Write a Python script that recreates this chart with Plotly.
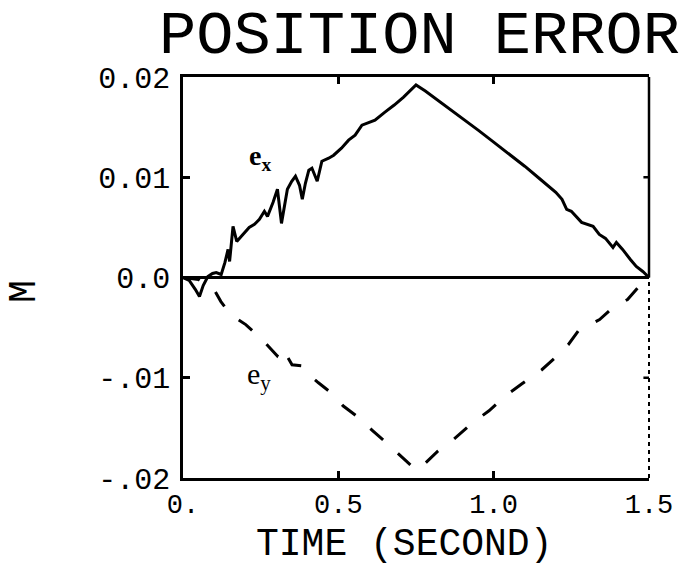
import plotly.graph_objects as go

# Time samples (s) and position error (m) for the x and y components
t_ex = [0.0, 0.02, 0.04, 0.053, 0.065, 0.08, 0.095, 0.107, 0.123, 0.135, 0.145,
        0.15, 0.161, 0.173, 0.19, 0.213, 0.23, 0.246, 0.262, 0.272, 0.29, 0.304,
        0.317, 0.336, 0.35, 0.362, 0.375, 0.384, 0.394, 0.405, 0.415, 0.432,
        0.447, 0.469, 0.485, 0.51, 0.533, 0.554, 0.576, 0.6, 0.618, 0.65, 0.68,
        0.71, 0.735, 0.75, 0.78, 0.82, 0.86, 0.9, 0.95, 1.0, 1.05, 1.1, 1.15,
        1.2, 1.22, 1.235, 1.25, 1.283, 1.32, 1.34, 1.36, 1.384, 1.395, 1.415,
        1.44, 1.459, 1.48, 1.5]
ex = [0.0, -0.0003, -0.0012, -0.0019, -0.0008, 0.0001, 0.0004, 0.0005, 0.0003,
      0.0015, 0.0028, 0.0016, 0.0051, 0.0036, 0.0042, 0.0050, 0.0053, 0.0058,
      0.0066, 0.0061, 0.0075, 0.0088, 0.0054, 0.0088, 0.0096, 0.0101, 0.0092,
      0.0078, 0.0094, 0.0107, 0.0109, 0.0096, 0.0116, 0.0119, 0.0122, 0.0129,
      0.0137, 0.0142, 0.0152, 0.0155, 0.0157, 0.0165, 0.0172, 0.0180, 0.0187,
      0.0192, 0.0186, 0.0177, 0.0168, 0.0159, 0.0147, 0.0135, 0.0123, 0.0111,
      0.0098, 0.0085, 0.0078, 0.0068, 0.0066, 0.0055, 0.0051, 0.0043, 0.0039,
      0.0030, 0.0035, 0.0028, 0.0018, 0.0011, 0.0006, 0.0]

t_ey = [0.0, 0.05, 0.1, 0.122, 0.153, 0.202, 0.255, 0.28, 0.303, 0.319, 0.351,
        0.383, 0.41, 0.436, 0.473, 0.515, 0.558, 0.611, 0.659, 0.718, 0.75,
        0.767, 0.821, 0.873, 0.932, 0.985, 1.038, 1.091, 1.155, 1.198, 1.24,
        1.273, 1.341, 1.384, 1.431, 1.479, 1.5]
ey = [0.0, -0.0002, -0.0012, -0.0024, -0.0037, -0.0047, -0.0062, -0.0070,
      -0.0078, -0.0070, -0.0087, -0.0088, -0.0098, -0.0105, -0.0114, -0.0128,
      -0.0138, -0.0153, -0.0166, -0.0183, -0.0192, -0.0189, -0.0173, -0.0161,
      -0.0145, -0.0133, -0.0118, -0.0106, -0.0092, -0.0080, -0.0067, -0.0053,
      -0.0042, -0.0030, -0.0022, -0.0005, 0.0]

x_tick_vals = [0.0, 0.5, 1.0, 1.5]
x_tick_text = ["0.", "0.5", "1.0", "1.5"]
y_tick_vals = [0.02, 0.01, 0.0, -0.01, -0.02]
y_tick_text = ["0.02", "0.01", "0.0", "-.01", "-.02"]

MONO = "Liberation Mono, DejaVu Sans Mono, monospace"
SERIF = "Liberation Serif, DejaVu Serif, serif"
INK = "black"

fig = go.Figure()
fig.add_trace(go.Scatter(x=t_ex, y=ex, mode="lines",
                         line=dict(color=INK, width=3), showlegend=False))
fig.add_trace(go.Scatter(x=t_ey, y=ey, mode="lines",
                         line=dict(color=INK, width=3, dash="17px,20px"),
                         showlegend=False))

# right-hand frame: solid above zero, broken below
fig.add_shape(type="line", xref="paper", yref="y", x0=1, x1=1, y0=0, y1=0.02,
              line=dict(color=INK, width=2.5))
fig.add_shape(type="line", xref="paper", yref="y", x0=1, x1=1, y0=-0.02, y1=0,
              line=dict(color=INK, width=2, dash="4px,4px"))
# mirrored y ticks on the right side
for v in y_tick_vals:
    if abs(v) == 0.01:
        fig.add_shape(type="line", xref="paper", yref="y", x0=0.988, x1=1,
                      y0=v, y1=v, line=dict(color=INK, width=2.5))

fig.update_layout(
    width=685, height=568,
    margin=dict(l=183, r=33, t=77, b=90),
    paper_bgcolor="white", plot_bgcolor="white",
    xaxis=dict(range=[0, 1.5], tickvals=x_tick_vals, ticktext=x_tick_text,
               ticks="inside", ticklen=7, tickwidth=2.5, tickcolor=INK,
               showline=True, linecolor=INK, linewidth=2.5, mirror="ticks",
               showgrid=False, zeroline=False, ticklabelstandoff=0,
               tickfont=dict(family=MONO, size=27, color=INK)),
    yaxis=dict(range=[-0.02, 0.02], tickvals=y_tick_vals, ticktext=y_tick_text,
               ticks="inside", ticklen=7, tickwidth=2.5, tickcolor=INK,
               showline=True, linecolor=INK, linewidth=2.5, mirror=False,
               showgrid=False, zeroline=True, zerolinecolor=INK,
               zerolinewidth=2.5, ticklabelstandoff=4,
               tickfont=dict(family=MONO, size=30, color=INK)),
    annotations=[
        dict(text="POSITION ERROR", xref="paper", yref="paper",
             x=0.507, y=1.102, xanchor="center", yanchor="middle",
             showarrow=False, font=dict(family=MONO, size=62, color=INK)),
        dict(text="TIME (SECOND)", xref="paper", yref="paper",
             x=0.475, y=-0.165, xanchor="center", yanchor="middle",
             showarrow=False, font=dict(family=MONO, size=38, color=INK)),
        dict(text="M", xref="paper", yref="paper", textangle=-90,
             x=-0.339, y=0.464, xanchor="center", yanchor="middle",
             showarrow=False, font=dict(family=MONO, size=38, color=INK)),
        dict(text="<b>e<sub>x</sub></b>", xref="paper", yref="paper",
             x=0.166, y=0.80, xanchor="center", yanchor="middle",
             showarrow=False, font=dict(family=SERIF, size=28, color=INK)),
        dict(text="e<sub>y</sub>", xref="paper", yref="paper",
             x=0.164, y=0.254, xanchor="center", yanchor="middle",
             showarrow=False, font=dict(family=SERIF, size=30, color=INK)),
    ],
)

fig.write_html("out.html")
